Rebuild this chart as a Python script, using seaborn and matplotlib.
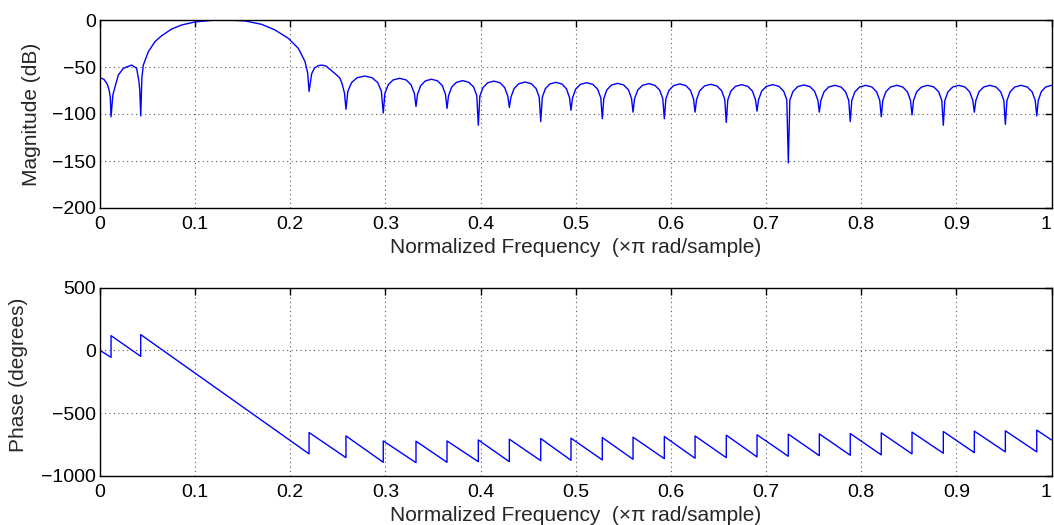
import matplotlib
matplotlib.use("Agg")
import matplotlib.pyplot as plt
import seaborn as sns
import pandas as pd

# ---------------- data ----------------
# magnitude nulls (normalized frequency, dB)
null_freq = [0.0116, 0.0428, 0.2197, 0.2585, 0.2977, 0.3321, 0.3647, 0.3976,
             0.4302, 0.4632, 0.4950, 0.5279, 0.5602, 0.5931, 0.6254, 0.6582,
             0.6905, 0.7234, 0.7560, 0.7885, 0.8211, 0.8534, 0.8863, 0.9189,
             0.9515, 0.9845]
null_db = [-103, -102, -76, -95, -99, -92, -94, -112, -93, -108, -96, -105,
           -98, -105, -98, -109, -97, -152, -98, -108, -103, -101, -112, -98,
           -111, -102]

# points inside each lobe (between consecutive nulls)
lobe_freq = [
    [0.0, 0.004, 0.0075, 0.0095, 0.0108],
    [0.0135, 0.0158, 0.0193, 0.0245, 0.0333, 0.0385, 0.0410, 0.0418],
    [0.0440, 0.0455, 0.0508, 0.0578, 0.0648, 0.0753, 0.0858, 0.0998, 0.1173,
     0.1349, 0.1524, 0.1699, 0.1839, 0.1979, 0.2084, 0.2155, 0.2183],
    [0.2225, 0.2255, 0.2295, 0.2335, 0.2375, 0.2417, 0.2487, 0.2522, 0.2545, 0.2570],
    [0.2605, 0.2644, 0.2703, 0.2781, 0.2859, 0.2918, 0.2957],
    [0.2994, 0.3029, 0.3080, 0.3149, 0.3218, 0.3269, 0.3304],
    [0.3337, 0.3370, 0.3419, 0.3484, 0.3549, 0.3598, 0.3631],
    [0.3663, 0.3696, 0.3746, 0.3812, 0.3877, 0.3927, 0.3960],
    [0.3992, 0.4025, 0.4074, 0.4139, 0.4204, 0.4253, 0.4286],
    [0.4319, 0.4352, 0.4401, 0.4467, 0.4533, 0.4583, 0.4616],
    [0.4648, 0.4680, 0.4727, 0.4791, 0.4855, 0.4902, 0.4934],
    [0.4966, 0.4999, 0.5049, 0.5115, 0.5180, 0.5230, 0.5263],
    [0.5295, 0.5327, 0.5376, 0.5441, 0.5505, 0.5554, 0.5586],
    [0.5618, 0.5651, 0.5701, 0.5767, 0.5832, 0.5882, 0.5915],
    [0.5947, 0.5979, 0.6028, 0.6093, 0.6157, 0.6206, 0.6238],
    [0.6270, 0.6303, 0.6352, 0.6418, 0.6484, 0.6533, 0.6566],
    [0.6598, 0.6630, 0.6679, 0.6744, 0.6808, 0.6857, 0.6889],
    [0.6921, 0.6954, 0.7004, 0.7070, 0.7135, 0.7185, 0.7218],
    [0.7250, 0.7283, 0.7332, 0.7397, 0.7462, 0.7511, 0.7544],
    [0.7576, 0.7609, 0.7658, 0.7723, 0.7788, 0.7836, 0.7869],
    [0.7901, 0.7934, 0.7983, 0.8048, 0.8113, 0.8162, 0.8195],
    [0.8227, 0.8259, 0.8308, 0.8373, 0.8437, 0.8486, 0.8518],
    [0.8550, 0.8583, 0.8633, 0.8699, 0.8764, 0.8814, 0.8847],
    [0.8879, 0.8912, 0.8961, 0.9026, 0.9091, 0.9140, 0.9173],
    [0.9205, 0.9238, 0.9287, 0.9352, 0.9417, 0.9466, 0.9499],
    [0.9532, 0.9565, 0.9614, 0.9680, 0.9746, 0.9796, 0.9829],
    [0.9861, 0.9892, 0.9938, 1.0],
]
lobe_db = [
    [-61.5, -63.0, -68.0, -74.0, -82.0],
    [-80.0, -71.0, -58.5, -51.4, -47.9, -51.4, -65.6, -75.0],
    [-62.0, -48.0, -33.7, -23.0, -16.7, -9.6, -5.3, -2.1, -0.4,
     0.0, -1.0, -4.6, -10.6, -19.5, -30.1, -44.3, -56.7],
    [-57.0, -51.0, -48.5, -48.0, -49.0, -52.5, -58.5, -62.0, -68.0, -78.0],
    [-75.7, -66.5, -61.4, -59.6, -61.4, -66.5, -75.7],
    [-78.1, -68.9, -63.8, -62.0, -63.8, -68.9, -78.1],
    [-79.1, -69.9, -64.8, -63.0, -64.8, -69.9, -79.1],
    [-80.6, -71.4, -66.3, -64.5, -66.3, -71.4, -80.6],
    [-81.1, -71.9, -66.8, -65.0, -66.8, -71.9, -81.1],
    [-82.1, -72.9, -67.8, -66.0, -67.8, -72.9, -82.1],
    [-82.4, -73.2, -68.1, -66.3, -68.1, -73.2, -82.4],
    [-82.8, -73.6, -68.5, -66.7, -68.5, -73.6, -82.8],
    [-83.5, -74.3, -69.2, -67.4, -69.2, -74.3, -83.5],
    [-83.8, -74.6, -69.5, -67.7, -69.5, -74.6, -83.8],
    [-84.1, -74.9, -69.8, -68.0, -69.8, -74.9, -84.1],
    [-84.5, -75.3, -70.2, -68.4, -70.2, -75.3, -84.5],
    [-84.9, -75.7, -70.6, -68.8, -70.6, -75.7, -84.9],
    [-84.9, -75.7, -70.6, -68.8, -70.6, -75.7, -84.9],
    [-85.2, -76.0, -70.9, -69.1, -70.9, -76.0, -85.2],
    [-85.6, -76.4, -71.3, -69.5, -71.3, -76.4, -85.6],
    [-85.6, -76.4, -71.3, -69.5, -71.3, -76.4, -85.6],
    [-85.6, -76.4, -71.3, -69.5, -71.3, -76.4, -85.6],
    [-85.6, -76.4, -71.3, -69.5, -71.3, -76.4, -85.6],
    [-85.6, -76.4, -71.3, -69.5, -71.3, -76.4, -85.6],
    [-85.6, -76.4, -71.3, -69.5, -71.3, -76.4, -85.6],
    [-85.6, -76.4, -71.3, -69.5, -71.3, -76.4, -85.6],
    [-85.6, -76.4, -71.3, -69.5],
]

# phase (degrees): value just before and just after each null (jumps)
phase_start = 0.0
phase_before = [-56, -48, -824, -854, -891, -894, -891, -886, -886, -878,
                -875, -872, -867, -862, -859, -854, -848, -843, -838, -835,
                -832, -824, -819, -814, -808, -808]
phase_after = [117, 125, -654, -681, -721, -723, -721, -713, -707, -702,
               -699, -694, -691, -686, -681, -675, -672, -667, -665, -662,
               -657, -651, -646, -643, -640, -635]
phase_end = -713

x_ticks = [0, 0.1, 0.2, 0.3, 0.4, 0.5, 0.6, 0.7, 0.8, 0.9, 1]
x_tick_labels = ["0", "0.1", "0.2", "0.3", "0.4", "0.5", "0.6", "0.7", "0.8", "0.9", "1"]
mag_ticks = [-200, -150, -100, -50, 0]
phase_ticks = [-1000, -500, 0, 500]
xlabel_text = "Normalized Frequency  (\u00d7\u03c0 rad/sample)"

# ---------------- assemble curves ----------------
mf, md = [], []
for i in range(len(lobe_freq)):
    mf += lobe_freq[i]
    md += lobe_db[i]
    if i < len(null_freq):
        mf.append(null_freq[i])
        md.append(null_db[i])
mag_df = pd.DataFrame({"f": mf, "db": md})

pf, pd_ = [0.0], [phase_start]
for f, b, a in zip(null_freq, phase_before, phase_after):
    pf += [f, f]
    pd_ += [b, a]
pf.append(1.0)
pd_.append(phase_end)
ph_df = pd.DataFrame({"f": pf, "deg": pd_})

# ---------------- plotting ----------------
sns.set_theme(style="white")
plt.rcParams["font.family"] = ["Liberation Sans", "DejaVu Sans"]
plt.rcParams["axes.unicode_minus"] = True

fig = plt.figure(figsize=(10.54, 5.25), dpi=100)
ax1 = fig.add_axes([100 / 1054, 1 - 208 / 525, 951.5 / 1054, 188 / 525])
ax2 = fig.add_axes([100 / 1054, 1 - 476 / 525, 951.5 / 1054, 188.5 / 525])

sns.lineplot(data=mag_df, x="f", y="db", ax=ax1, color=(0, 0, 1), lw=1.0,
             sort=False, estimator=None)
sns.lineplot(data=ph_df, x="f", y="deg", ax=ax2, color=(0, 0, 1), lw=1.0,
             sort=False, estimator=None)

for ax, yt in ((ax1, mag_ticks), (ax2, phase_ticks)):
    ax.set_xlim(0, 1)
    ax.set_ylim(yt[0], yt[-1])
    ax.set_xticks(x_ticks)
    ax.set_xticklabels(x_tick_labels)
    ax.set_yticks(yt)
    ax.grid(True, linestyle=(0, (1, 3)), color="0.35", linewidth=0.8)
    ax.tick_params(direction="in", length=5, width=1, top=True, right=True,
                   labelsize=14, colors="black")
    ax.tick_params(axis="x", pad=5.5)
    ax.tick_params(axis="y", pad=3)
    for s in ax.spines.values():
        s.set_color("black")
        s.set_linewidth(1.0)
    ax.set_xlabel(xlabel_text, fontsize=15, labelpad=4)
    last = ax.get_xticklabels()[-1]
    last.set_horizontalalignment("right")

ax1.set_ylabel("Magnitude (dB)", fontsize=15)
ax2.set_ylabel("Phase (degrees)", fontsize=15)
ax1.yaxis.set_label_coords(-0.062, 0.5)
ax2.yaxis.set_label_coords(-0.076, 0.535)

fig.savefig("out.png", dpi=100)
